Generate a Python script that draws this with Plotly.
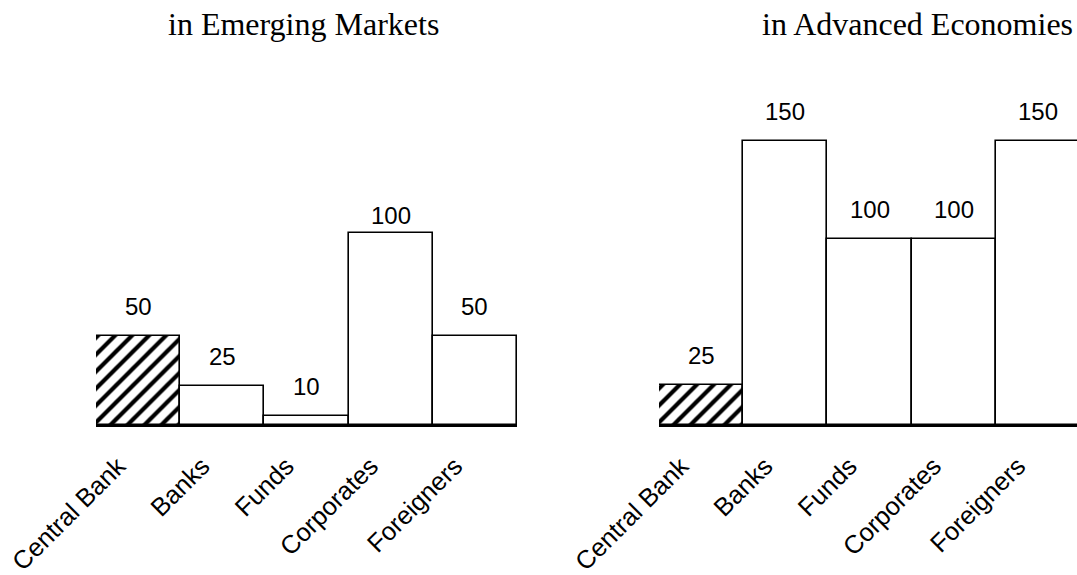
import plotly.graph_objects as go

# ---- data ----
categories = ["Central Bank", "Banks", "Funds", "Corporates", "Foreigners"]
em_labels = [50, 25, 10, 100, 50]          # printed values, Emerging Markets
ae_labels = [25, 150, 100, 100, 150]       # printed values, Advanced Economies
em_heights = [47.0, 20.8, 4.8, 101.3, 47.2]   # drawn bar heights (same units as 150-scale)
ae_heights = [21.1, 150.0, 98.3, 98.3, 150.0]
panel_titles = ["in Emerging Markets", "in Advanced Economies"]

W, H = 1077, 575
sans = "Liberation Sans, Arial, Helvetica, sans-serif"
serif = "Liberation Serif, Times New Roman, serif"

patterns = ["/", "", "", "", ""]

fig = go.Figure()
for heights, xa, ya in [(em_heights, "x", "y"), (ae_heights, "x2", "y2")]:
    fig.add_trace(go.Bar(
        x=categories, y=heights, xaxis=xa, yaxis=ya, width=1,
        marker=dict(color="white", line=dict(color="black", width=1.6),
                    pattern=dict(shape=patterns, fgcolor="black", bgcolor="white",
                                 fillmode="replace", fgopacity=1,
                                 size=12, solidity=0.35)),
        showlegend=False, hoverinfo="skip"))

base_px = 425
top_px = 100
px_per_unit = 284 / 150.0
ymax = (base_px - top_px) / px_per_unit
ydom = [1 - base_px / H, 1 - top_px / H]

axis_common = dict(showline=True, linecolor="black", linewidth=2, showgrid=False,
                   zeroline=False, ticks="outside", ticklen=14, tickcolor="rgba(0,0,0,0)",
                   tickangle=-45, tickfont=dict(family=sans, size=25.5, color="black"),
                   ticklabelshift=-20, automargin=False, fixedrange=True)
bar_px = 84.2
right_start = 659
fig.update_layout(
    template="none",
    width=W, height=H, margin=dict(l=0, r=0, t=0, b=0, pad=0, autoexpand=False),
    paper_bgcolor="white", plot_bgcolor="white", bargap=0,
    xaxis=dict(domain=[96 / W, (96 + 5 * bar_px) / W], range=[-0.5, 4.5], **axis_common),
    xaxis2=dict(domain=[right_start / W, 1.0],
                range=[-0.5, (W - right_start) / bar_px - 0.5], anchor="y2", **axis_common),
    yaxis=dict(domain=ydom, range=[0, ymax], visible=False, fixedrange=True, automargin=False),
    yaxis2=dict(domain=ydom, range=[0, ymax], visible=False, anchor="x2", fixedrange=True,
                automargin=False),
)

ann = []
for i, (labels, heights, xr, yr) in enumerate([(em_labels, em_heights, "x", "y"),
                                               (ae_labels, ae_heights, "x2", "y2")]):
    for j, (c, v, h) in enumerate(zip(categories, labels, heights)):
        shift = 14
        if i == 0 and j == 3:
            shift = 2
        ann.append(dict(x=c, y=h, xref=xr, yref=yr, text=str(v), showarrow=False,
                        yanchor="bottom", yshift=shift,
                        font=dict(family=sans, size=24, color="black")))

title_x = [303, 917]
for t, xp in zip(panel_titles, title_x):
    ann.append(dict(x=xp / W, y=1 - 24 / H, xref="paper", yref="paper", text=t,
                    showarrow=False, xanchor="center", yanchor="middle",
                    font=dict(family=serif, size=32, color="black")))
fig.update_layout(annotations=ann)

fig.write_html("out.html", config={"displayModeBar": False},
               post_script="document.body.style.margin='0';document.body.style.overflow='hidden';")
